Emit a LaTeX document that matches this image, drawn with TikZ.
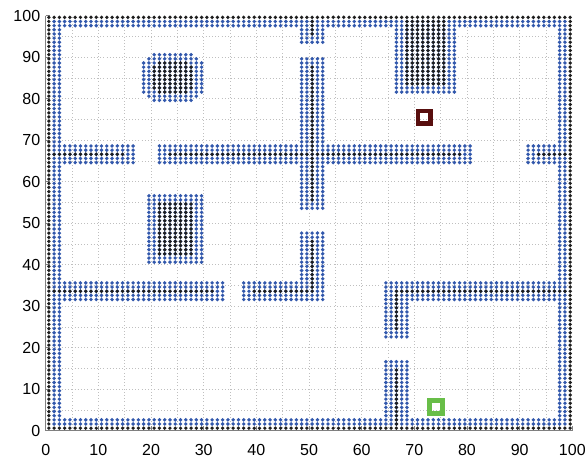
\documentclass[tikz,border=0pt]{standalone}
\usepackage{fontspec}
\setmainfont{Liberation Sans}
\definecolor{mapblue}{RGB}{50,88,172}
\definecolor{mapblack}{RGB}{30,30,30}
\definecolor{goalred}{RGB}{88,14,14}
\definecolor{startgreen}{RGB}{104,190,72}
\tikzset{
  bluedot/.style={fill=mapblue},
  blackdot/.style={fill=mapblack},
  gridline/.style={black!25,dotted,line width=0.4pt},
  axisline/.style={black!50,line width=0.6pt},
  ticklabel/.style={font=\fontsize{12}{14}\selectfont,inner sep=0pt},
  marker/.style={line width=3.5pt,minimum size=9.5pt,inner sep=0pt},
}
\begin{document}
\begin{tikzpicture}[x=3.95pt,y=3.1125pt]
\useasboundingbox (-8.68,-6.82) rectangle (102.41,103.78);
\foreach \g in {5,10,...,95} {
  \draw[gridline] (\g,0) -- (\g,100);
  \draw[gridline] (0,\g) -- (100,\g);
}
\draw[axisline] (0,100) -- (0,0) -- (100,0);
\foreach \t in {0,10,...,100} {
  \draw[axisline] (\t,0) -- (\t,1);
  \draw[axisline] (0,\t) -- (0.75,\t);
  \node[ticklabel] (xl\t) at (\t,-4.75) {\t};
  \node[ticklabel,anchor=east] (yl\t) at (-1,\t) {\t};
}
\begin{scope}[shift={(-0.4,-0.4)}]
% inflated cells
\fill[bluedot] \foreach \xa/\xb/\ya/\yb in {2/99/2/3,2/99/98/99,2/3/2/99,98/99/2/99,
    2/17/65/69,22/81/65/69,92/99/65/69,49/53/94/99,49/53/54/90,20/30/41/57,
    67/78/82/99,2/34/32/36,38/53/32/36,49/53/32/48,65/99/32/36,65/69/23/36,
    65/69/2/17,21/28/91/91,20/29/90/90,19/30/82/89,20/29/81/81,21/28/80/80} {
  \foreach \x in {\xa,...,\xb} { \foreach \y in {\ya,...,\yb} { (\x,\y) circle (1.45pt) } }
};
% obstacle cells
\fill[blackdot] \foreach \xa/\xb/\ya/\yb in {1/100/1/1,1/100/100/100,1/1/1/100,100/100/1/100,
    1/15/67/67,24/79/67/67,94/100/67/67,51/51/96/100,51/51/56/88,22/28/43/55,
    69/76/84/100,1/32/34/34,40/51/34/34,51/51/34/46,67/100/34/34,67/67/25/34,
    67/67/1/15,22/27/89/89,21/28/83/88,22/27/82/82} {
  \foreach \x in {\xa,...,\xb} { \foreach \y in {\ya,...,\yb} { (\x,\y) circle (1.4pt) } }
};
\end{scope}
\node[marker,draw=goalred] (goal) at (71.9,75.5) {};
\node[marker,draw=startgreen] (start) at (74.1,5.7) {};
\end{tikzpicture}
\end{document}
